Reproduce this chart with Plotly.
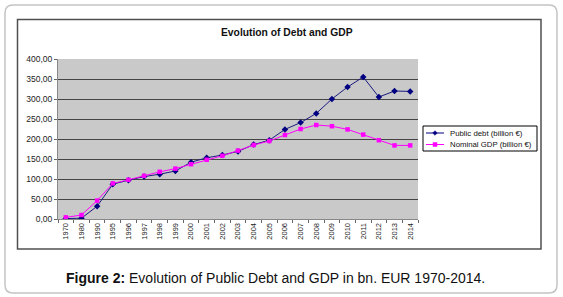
import plotly.graph_objects as go

years = ["1970", "1980", "1990", "1995", "1996", "1997", "1998", "1999", "2000", "2001",
         "2002", "2003", "2004", "2005", "2006", "2007", "2008", "2009", "2010", "2011",
         "2012", "2013", "2014"]
public_debt = [1, 2, 32, 87, 97, 106, 112, 120, 142, 153,
               160, 169, 186, 197, 224, 241, 264, 300, 330, 355,
               305, 320, 319]
nominal_gdp = [4, 10, 46, 89, 98, 108, 118, 126, 137, 148,
               158, 171, 185, 195, 210, 225, 235, 232, 224, 211,
               197, 184, 184]
series_names = ["Public debt (billion €)", "Nominal GDP (billion €)"]
y_ticks = [0, 50, 100, 150, 200, 250, 300, 350, 400]
y_tick_labels = ["0,00", "50,00", "100,00", "150,00", "200,00", "250,00", "300,00", "350,00", "400,00"]

W, H = 563, 297
L, R, T, B = 58, 418, 59, 219  # plot area in pixels


def px(x):
    return (x - L) / (R - L)


def py(y):
    return (B - y) / (B - T)


FONT = "Liberation Sans, Arial, sans-serif"
DEBT_C = "#000080"
GDP_C = "#ff00ff"

fig = go.Figure()
fig.add_trace(go.Scatter(
    x=years, y=public_debt, name=series_names[0], mode="lines+markers",
    line=dict(color="#1a1a80", width=1),
    marker=dict(symbol="diamond", size=5, color=DEBT_C),
))
fig.add_trace(go.Scatter(
    x=years, y=nominal_gdp, name=series_names[1], mode="lines+markers",
    line=dict(color=GDP_C, width=1),
    marker=dict(symbol="square", size=4.5, color=GDP_C),
))

shapes = []
# outer rounded box
x0, y0, x1, y1, r = 5, 5, 557, 293, 8
path = (f"M {px(x0 + r)},{py(y0)} L {px(x1 - r)},{py(y0)} Q {px(x1)},{py(y0)} {px(x1)},{py(y0 + r)} "
        f"L {px(x1)},{py(y1 - r)} Q {px(x1)},{py(y1)} {px(x1 - r)},{py(y1)} "
        f"L {px(x0 + r)},{py(y1)} Q {px(x0)},{py(y1)} {px(x0)},{py(y1 - r)} "
        f"L {px(x0)},{py(y0 + r)} Q {px(x0)},{py(y0)} {px(x0 + r)},{py(y0)} Z")
shapes.append(dict(type="path", xref="paper", yref="paper", path=path,
                   line=dict(color="#c4c4c4", width=1.5), layer="below"))
# inner chart frame
shapes.append(dict(type="rect", xref="paper", yref="paper",
                   x0=px(17.5), x1=px(541), y0=py(19.5), y1=py(249),
                   line=dict(color="#505050", width=1.5), layer="below"))

# legend box (drawn compactly like the original)
shapes.append(dict(type="rect", xref="paper", yref="paper",
                   x0=px(423), x1=px(537), y0=py(126), y1=py(151),
                   line=dict(color="#000000", width=1), fillcolor="white", layer="above"))
legend_rows = [133, 144.5]
annotations = []
for i, (name, col, yy) in enumerate(zip(series_names, [DEBT_C, GDP_C], legend_rows)):
    shapes.append(dict(type="line", xref="paper", yref="paper",
                       x0=px(426), x1=px(444), y0=py(yy), y1=py(yy),
                       line=dict(color=col, width=1), layer="above"))
    if i == 0:
        d = 2.3
        shapes.append(dict(type="path", xref="paper", yref="paper",
                           path=f"M {px(435 - d)},{py(yy)} L {px(435)},{py(yy - d)} L {px(435 + d)},{py(yy)} L {px(435)},{py(yy + d)} Z",
                           fillcolor=col, line=dict(color=col, width=0.5), layer="above"))
    else:
        d = 2
        shapes.append(dict(type="rect", xref="paper", yref="paper",
                           x0=px(435 - d), x1=px(435 + d), y0=py(yy - d), y1=py(yy + d),
                           fillcolor=col, line=dict(color=col, width=0.5), layer="above"))
    annotations.append(dict(text=name, x=px(448), y=py(yy), xref="paper", yref="paper",
                            showarrow=False, xanchor="left", yanchor="middle",
                            font=dict(family=FONT, size=7.8, color="#111")))

annotations += [
    dict(text="<b>Evolution of Debt and GDP</b>", x=px(287), y=py(33), xref="paper", yref="paper",
         showarrow=False, font=dict(family=FONT, size=10.3, color="#111"), xanchor="center", yanchor="middle"),
    dict(text="<b>Figure 2:</b> Evolution of Public Debt and GDP in bn. EUR 1970-2014.",
         x=px(275), y=py(278), xref="paper", yref="paper", showarrow=False,
         font=dict(family=FONT, size=14, color="#111"), xanchor="center", yanchor="middle"),
]

fig.update_layout(
    width=W, height=H,
    margin=dict(l=L, r=W - R, t=T, b=H - B),
    paper_bgcolor="white",
    plot_bgcolor="#c9c9c9",
    shapes=shapes,
    showlegend=False,
    annotations=annotations,
    xaxis=dict(
        type="category", showgrid=False, zeroline=False,
        showline=True, linecolor="#888", linewidth=1,
        ticks="outside", tickson="boundaries", ticklen=3, tickcolor="#666",
        tickangle=-90, tickfont=dict(family=FONT, size=7.5, color="#222"),
        range=[-0.5, len(years) - 0.5],
    ),
    yaxis=dict(
        range=[0, 400], tickvals=y_ticks, ticktext=y_tick_labels,
        showgrid=True, gridcolor="#444", gridwidth=1, zeroline=False,
        showline=True, linecolor="#888", linewidth=1,
        ticks="outside", ticklen=3, tickcolor="#666",
        tickfont=dict(family=FONT, size=8.5, color="#222"),
    ),
)

fig.write_html("out.html", config={"displayModeBar": False},
               post_script="document.body.style.margin='0';")
